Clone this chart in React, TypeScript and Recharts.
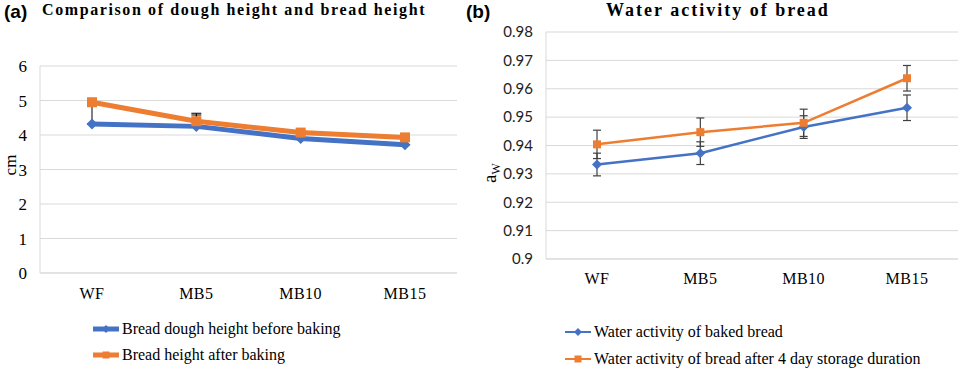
import { LineChart, Line, XAxis, YAxis, CartesianGrid, ErrorBar, Legend } from 'recharts';

const categories = ['WF', 'MB5', 'MB10', 'MB15'];

// (a) heights, cm
const doughHeight = [4.32, 4.25, 3.9, 3.72];
const breadHeight = [4.95, 4.4, 4.07, 3.93];
const doughErr = [[0, 0.6], [0, 0.33], [0, 0], [0, 0]];
const breadErr = [[0, 0], [0, 0.23], [0, 0], [0, 0]];
const heightTicks = [0, 1, 2, 3, 4, 5, 6];

// (b) water activity
const awBaked = [0.9333, 0.9373, 0.9465, 0.9533];
const awStored = [0.9404, 0.9447, 0.948, 0.9637];
const awBakedErr = [0.004, 0.004, 0.004, 0.0045];
const awStoredErr = [0.005, 0.005, 0.0048, 0.0045];
const awTicks = [0.9, 0.91, 0.92, 0.93, 0.94, 0.95, 0.96, 0.97, 0.98];

const BLUE = '#4472C4';
const ORANGE = '#ED7D31';
const SERIF = '"Liberation Serif", "Times New Roman", serif';
const SANS = '"Liberation Sans", Arial, sans-serif';

const heightData = categories.map((c, i) => ({
  name: c,
  dough: doughHeight[i],
  bread: breadHeight[i],
  doughErr: doughErr[i],
  breadErr: breadErr[i],
}));

const awData = categories.map((c, i) => ({
  name: c,
  baked: awBaked[i],
  stored: awStored[i],
  bakedErr: awBakedErr[i],
  storedErr: awStoredErr[i],
}));

const diamond = (size: number, color: string) => (props: any) => {
  const { cx, cy, index } = props;
  if (cx == null || cy == null) return <g key={index} />;
  const s = size / 2;
  return (
    <path key={index} d={`M${cx},${cy - s}L${cx + s},${cy}L${cx},${cy + s}L${cx - s},${cy}Z`} fill={color} />
  );
};

const square = (size: number, color: string) => (props: any) => {
  const { cx, cy, index } = props;
  if (cx == null || cy == null) return <g key={index} />;
  const s = size / 2;
  return <rect key={index} x={cx - s} y={cy - s} width={size} height={size} fill={color} />;
};

function LegendBox({ items, lineWidth, fontSize, gap }: any) {
  return (
    <div style={{ fontFamily: SERIF, fontSize, color: '#000' }}>
      {items.map((it: any) => (
        <div key={it.label} style={{ display: 'flex', alignItems: 'center', height: gap }}>
          <svg width={28} height={14} style={{ marginRight: 2 }}>
            <line x1={1} y1={7} x2={27} y2={7} stroke={it.color} strokeWidth={lineWidth} />
            {it.shape === 'diamond' ? (
              <path d="M14,3L18,7L14,11L10,7Z" fill={it.color} />
            ) : (
              <rect x={10.5} y={3.5} width={7} height={7} fill={it.color} />
            )}
          </svg>
          <span style={{ fontFamily: SERIF }}>{it.label}</span>
        </div>
      ))}
    </div>
  );
}

const legendA = [
  { label: 'Bread dough height before baking', color: BLUE, shape: 'diamond' },
  { label: 'Bread height after baking', color: ORANGE, shape: 'square' },
];
const legendB = [
  { label: 'Water activity of baked bread', color: BLUE, shape: 'diamond' },
  { label: 'Water activity of bread after 4 day storage duration', color: ORANGE, shape: 'square' },
];

export default function App() {
  return (
    <div style={{ position: 'absolute', left: 0, top: 0, width: 958, height: 368, background: '#fff', overflow: 'hidden' }}>
      <div style={{ position: 'absolute', left: 4, top: 1, fontFamily: SANS, fontWeight: 'bold', fontSize: 19 }}>(a)</div>
      <div style={{ position: 'absolute', left: 42, top: 1, fontFamily: SERIF, fontWeight: 'bold', fontSize: 16, letterSpacing: 1.6 }}>
        Comparison of dough height and bread height
      </div>
      <div style={{ position: 'absolute', left: 466, top: 1, fontFamily: SANS, fontWeight: 'bold', fontSize: 19 }}>(b)</div>
      <div style={{ position: 'absolute', left: 606, top: 0, fontFamily: SERIF, fontWeight: 'bold', fontSize: 18, letterSpacing: 2 }}>
        Water activity of bread
      </div>

      <div style={{ position: 'absolute', left: 0, top: 0 }}>
        <LineChart width={470} height={368} data={heightData} margin={{ top: 66, right: 13, left: 0, bottom: 65 }}>
          <CartesianGrid vertical={false} stroke="#d9d9d9" />
          <XAxis
            dataKey="name"
            height={30}
            padding={{ left: 52, right: 52 }}
            axisLine={{ stroke: '#d9d9d9' }}
            tickLine={false}
            tickMargin={9}
            tick={{ fontFamily: SERIF, fontSize: 16, fill: '#000', letterSpacing: 0.5 }}
          />
          <YAxis
            width={40}
            domain={[0, 6]}
            ticks={heightTicks}
            interval={0}
            axisLine={{ stroke: '#d9d9d9' }}
            tickLine={false}
            tickMargin={7}
            tick={{ fontFamily: SERIF, fontSize: 17, fill: '#000' }}
            label={() => (
              <text x={15.5} y={165} transform="rotate(-90 15.5 165)" textAnchor="middle" fontFamily={SERIF} fontSize={17} fill="#000">
                cm
              </text>
            )}
          />
          <Line
            dataKey="dough"
            stroke={BLUE}
            strokeWidth={5}
            dot={diamond(11, BLUE)}
            activeDot={false}
            isAnimationActive={false}
          >
            <ErrorBar dataKey="doughErr" stroke="#000" strokeWidth={1} width={5} />
          </Line>
          <Line
            dataKey="bread"
            stroke={ORANGE}
            strokeWidth={5}
            dot={square(10, ORANGE)}
            activeDot={false}
            isAnimationActive={false}
          >
            <ErrorBar dataKey="breadErr" stroke="#000" strokeWidth={1} width={5} />
          </Line>
          <Legend
            layout="vertical"
            align="center"
            verticalAlign="middle"
            wrapperStyle={{ left: 92, top: 316, width: 300 }}
            content={() => <LegendBox items={legendA} lineWidth={5} fontSize={16} gap={26} />}
          />
        </LineChart>
      </div>

      <div style={{ position: 'absolute', left: 470, top: 0 }}>
        <LineChart width={488} height={368} data={awData} margin={{ top: 32, right: 0, left: 0, bottom: 79 }}>
          <CartesianGrid vertical={false} stroke="#d9d9d9" />
          <XAxis
            dataKey="name"
            height={30}
            padding={{ left: 51, right: 51 }}
            axisLine={{ stroke: '#d9d9d9' }}
            tickLine={false}
            tickMargin={8}
            tick={{ fontFamily: SERIF, fontSize: 16, fill: '#000', letterSpacing: 0.5 }}
          />
          <YAxis
            width={76}
            domain={[0.9, 0.98]}
            ticks={awTicks}
            interval={0}
            allowDataOverflow
            axisLine={{ stroke: '#d9d9d9' }}
            tickLine={false}
            tickMargin={7}
            tickFormatter={(v: number) => String(Number(v.toFixed(2)))}
            tick={{ fontFamily: '"Lato", "Liberation Sans", sans-serif', fontSize: 15, fill: '#222' }}
            label={() => (
              <text x={26} y={173} transform="rotate(-90 26 173)" textAnchor="middle" fontFamily={SERIF} fontSize={19} fill="#000">
                a<tspan fontSize={12} dy={4}>W</tspan>
              </text>
            )}
          />
          <Line
            dataKey="baked"
            stroke={BLUE}
            strokeWidth={2.5}
            dot={diamond(10, BLUE)}
            activeDot={false}
            isAnimationActive={false}
          >
            <ErrorBar dataKey="bakedErr" stroke="#404040" strokeWidth={1.2} width={4} />
          </Line>
          <Line
            dataKey="stored"
            stroke={ORANGE}
            strokeWidth={2.5}
            dot={square(8, ORANGE)}
            activeDot={false}
            isAnimationActive={false}
          >
            <ErrorBar dataKey="storedErr" stroke="#404040" strokeWidth={1.2} width={4} />
          </Line>
          <Legend
            layout="vertical"
            align="center"
            verticalAlign="middle"
            wrapperStyle={{ left: 94, top: 318, width: 394 }}
            content={() => <LegendBox items={legendB} lineWidth={2} fontSize={16} gap={27} />}
          />
        </LineChart>
      </div>
    </div>
  );
}
